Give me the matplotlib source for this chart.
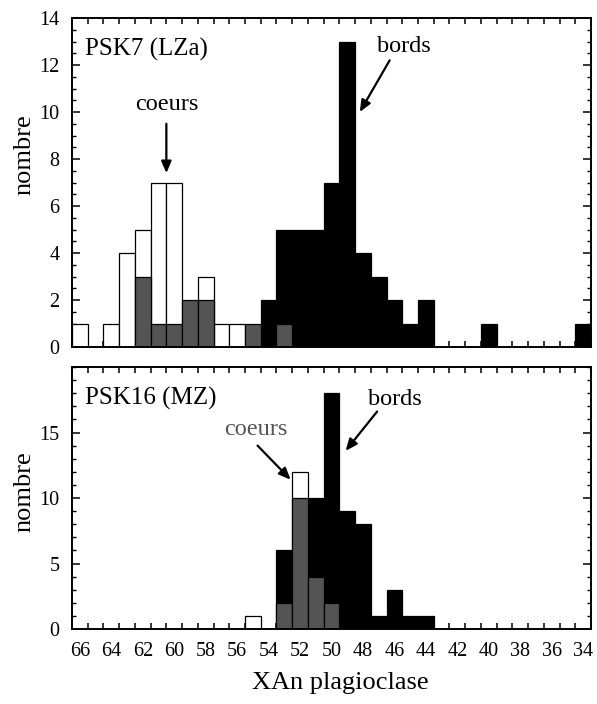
import matplotlib
matplotlib.use("Agg")
import matplotlib.pyplot as plt
from matplotlib.ticker import MultipleLocator, FixedLocator

plt.rcParams['font.family'] = ['Liberation Serif', 'DejaVu Serif']

# XAn bins (centre values), counts
# PSK7 (LZa)
psk7_coeurs_x = [66, 64, 63, 62, 61, 60, 58, 57, 56]
psk7_coeurs_n = [1, 1, 4, 5, 7, 7, 3, 1, 1]
psk7_gris_x = [62, 61, 60, 59, 58, 55, 53]
psk7_gris_n = [3, 1, 1, 2, 2, 1, 1]
psk7_bords_x = [54, 53, 52, 51, 50, 49, 48, 47, 46, 45, 44, 40, 34]
psk7_bords_n = [2, 5, 5, 5, 7, 13, 4, 3, 2, 1, 2, 1, 1]

# PSK16 (MZ)
psk16_coeurs_x = [55, 52]
psk16_coeurs_n = [1, 12]
psk16_gris_x = [53, 52, 51, 50]
psk16_gris_n = [2, 10, 4, 2]
psk16_bords_x = [53, 51, 50, 49, 48, 47, 46, 45, 44]
psk16_bords_n = [6, 10, 18, 9, 8, 1, 3, 1, 1]

xlabels = [66, 64, 62, 60, 58, 56, 54, 52, 50, 48, 46, 44, 42, 40, 38, 36, 34]

GRIS = "#545454"

fig = plt.figure(figsize=(5.97, 7.04), dpi=100)
ax1 = fig.add_axes([0.1206, 0.5071, 0.8693, 0.4673])
ax2 = fig.add_axes([0.1206, 0.1065, 0.8693, 0.3722])


def histo(ax, cx, cn, gx, gn, bx, bn):
    ax.bar(cx, cn, width=1.0, color="white", edgecolor="black", linewidth=0.9, zorder=2)
    ax.bar(bx, bn, width=1.0, color="black", edgecolor="black", linewidth=0.9, zorder=3)
    ax.bar(gx, gn, width=1.0, color=GRIS, edgecolor="black", linewidth=0.9, zorder=4)


def style(ax, ymax, ymaj, ymin, labels_x):
    ax.set_xlim(66.5, 33.5)
    ax.set_ylim(0, ymax)
    ax.xaxis.set_major_locator(FixedLocator(xlabels))
    ax.xaxis.set_minor_locator(MultipleLocator(1, offset=0.5))
    ax.yaxis.set_major_locator(MultipleLocator(ymaj))
    ax.yaxis.set_minor_locator(MultipleLocator(ymin))
    ax.tick_params(axis="x", which="major", length=0, pad=9, labelsize=14.5,
                   labelbottom=labels_x)
    ax.tick_params(axis="x", which="minor", direction="in", length=4.5, width=1.1,
                   top=True, bottom=True)
    ax.tick_params(axis="y", which="major", direction="in", length=6, width=1.1,
                   left=True, right=True, pad=9, labelsize=14.5)
    ax.tick_params(axis="y", which="minor", direction="in", length=3, width=1.0,
                   left=True, right=True)
    for s in ax.spines.values():
        s.set_linewidth(1.4)
        s.set_zorder(5)


histo(ax1, psk7_coeurs_x, psk7_coeurs_n, psk7_gris_x, psk7_gris_n,
      psk7_bords_x, psk7_bords_n)
style(ax1, 14, 2, 0.5, False)

histo(ax2, psk16_coeurs_x, psk16_coeurs_n, psk16_gris_x, psk16_gris_n,
      psk16_bords_x, psk16_bords_n)
style(ax2, 20, 5, 1, True)
ax2.set_yticks([0, 5, 10, 15])

# annotations
fleche = dict(arrowstyle="-|>,head_length=0.7,head_width=0.3", color="black", lw=1.6,
              shrinkA=0, shrinkB=0)

ax1.text(0.025, 0.903, "PSK7 (LZa)", transform=ax1.transAxes, fontsize=18,
         ha="left", va="center")
ax1.text(60.5, 10.3, "coeurs", fontsize=17.5, ha="center", va="center")
ax1.annotate("", xy=(60.5, 7.4), xytext=(60.5, 9.5), arrowprops=fleche)
ax1.text(45.4, 12.8, "bords", fontsize=17.5, ha="center", va="center")
ax1.annotate("", xy=(48.2, 10.0), xytext=(46.3, 12.2), arrowprops=fleche)

ax2.text(0.025, 0.88, "PSK16 (MZ)", transform=ax2.transAxes, fontsize=18,
         ha="left", va="center")
ax2.text(54.8, 15.2, "coeurs", fontsize=17.5, ha="center", va="center", color="#555555")
ax2.annotate("", xy=(52.6, 11.4), xytext=(54.7, 14.0), arrowprops=fleche)
ax2.text(46.0, 17.5, "bords", fontsize=17.5, ha="center", va="center")
ax2.annotate("", xy=(49.1, 13.6), xytext=(47.1, 16.6), arrowprops=fleche)

ax1.set_ylabel("nombre", fontsize=19)
ax1.yaxis.set_label_coords(-0.071, 0.584)
ax2.set_ylabel("nombre", fontsize=19)
ax2.yaxis.set_label_coords(-0.071, 0.523)

fig.text(340 / 597, 1 - 683 / 704, "XAn plagioclase", fontsize=19,
         ha="center", va="center")

fig.savefig("out.png", dpi=100)
plt.close(fig)
